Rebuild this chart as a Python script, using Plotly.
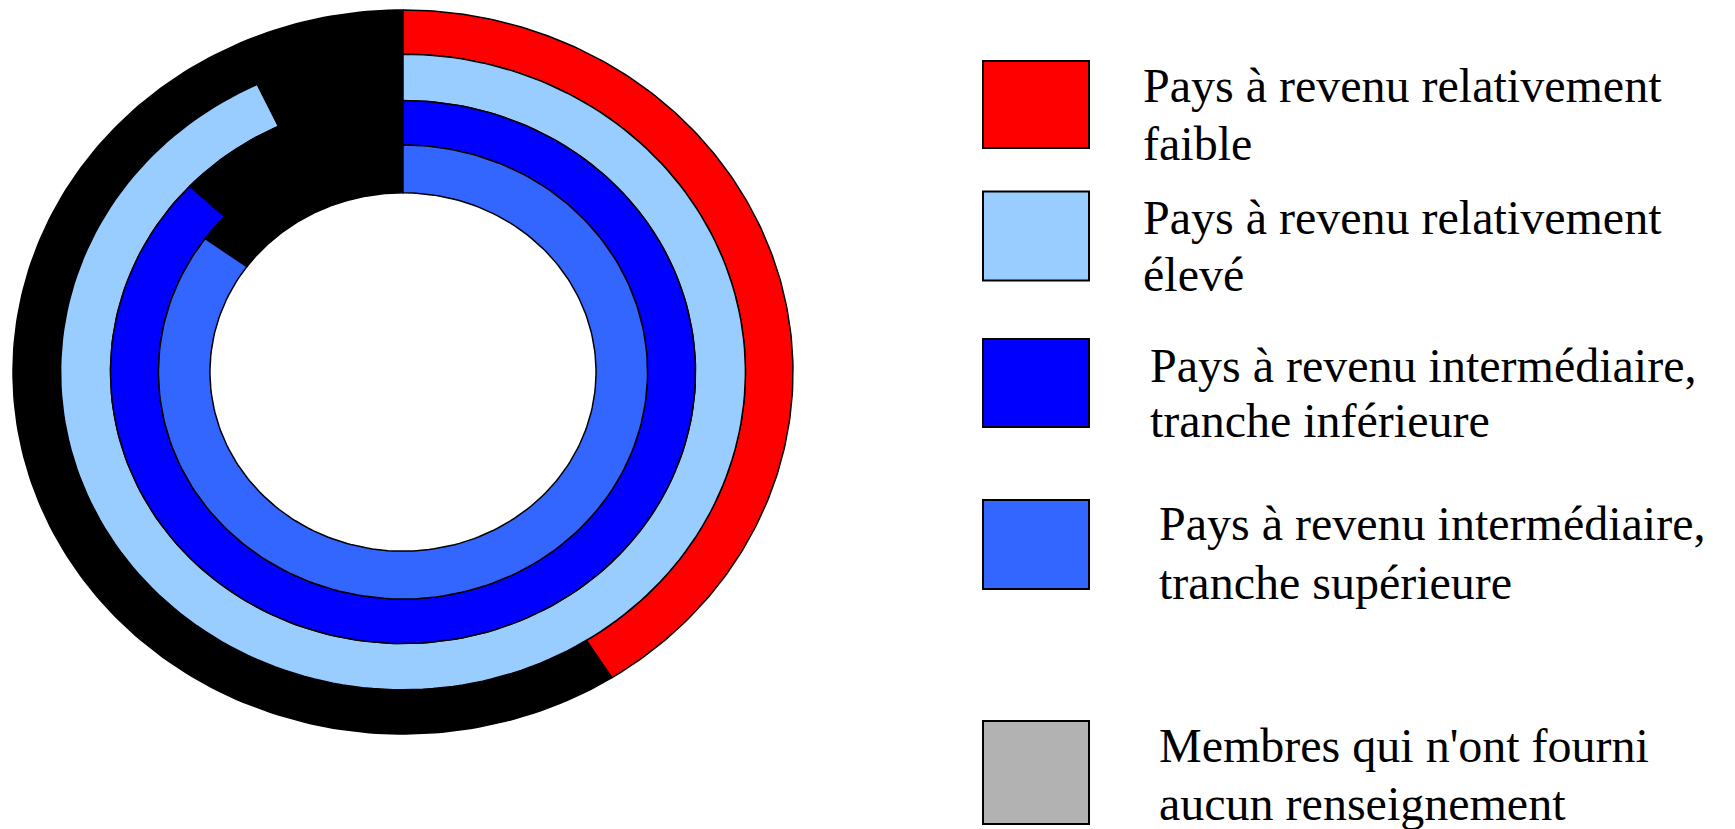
import numpy as np
import plotly.graph_objects as go

# ---- data ----
categories = [
    "Pays à revenu relativement faible",
    "Pays à revenu relativement élevé",
    "Pays à revenu intermédiaire, tranche inférieure",
    "Pays à revenu intermédiaire, tranche supérieure",
]
avec_renseignement = [41, 93, 87, 85]   # % of members with information (coloured part)
sans_renseignement = [59, 7, 13, 15]    # % of members without information (black part)
legend_labels = [
    ["Pays à revenu relativement", "faible"],
    ["Pays à revenu relativement", "élevé"],
    ["Pays à revenu intermédiaire,", "tranche inférieure"],
    ["Pays à revenu intermédiaire,", "tranche supérieure"],
    ["Membres qui n'ont fourni", "aucun renseignement"],
]

# ---- style / layout ----
W, H = 1735, 829
ring_colors = ["#FF0000", "#99CCFF", "#0000FF", "#3366FF"]
none_color = "#000000"
legend_none_color = "#B2B2B2"
cx, cy = 403, 372          # centre (px)
Rx, Ry = 390, 362          # outer radii (px), chart is slightly stretched horizontally
# ring boundaries, outer ring first (fraction of outer radius)
ring_outer = [1.0, 0.878, 0.75, 0.627]
ring_inner = [0.878, 0.75, 0.627, 0.495]


def sector(r0, r1, a0, a1, n=200):
    t = np.linspace(a0, a1, n)
    xo = cx + r1 * Rx * np.sin(t)
    yo = cy - r1 * Ry * np.cos(t)
    xi = cx + r0 * Rx * np.sin(t[::-1])
    yi = cy - r0 * Ry * np.cos(t[::-1])
    x = np.concatenate([xo, xi, xo[:1]])
    y = np.concatenate([yo, yi, yo[:1]])
    return x, y


fig = go.Figure()
for i, cat in enumerate(categories):
    total = avec_renseignement[i] + sans_renseignement[i]
    a_split = 2 * np.pi * avec_renseignement[i] / total
    # black (no information) part
    x, y = sector(ring_inner[i], ring_outer[i], a_split, 2 * np.pi)
    fig.add_trace(go.Scatter(x=x, y=y, mode="lines", fill="toself",
                             fillcolor=none_color, line=dict(color="#000000", width=1.5),
                             name="Membres qui n'ont fourni aucun renseignement",
                             hoverinfo="name", showlegend=False))
    # coloured part
    x, y = sector(ring_inner[i], ring_outer[i], 0, a_split)
    fig.add_trace(go.Scatter(x=x, y=y, mode="lines", fill="toself",
                             fillcolor=ring_colors[i], line=dict(color="#000000", width=1.5),
                             name=cat, hoverinfo="name", showlegend=False))

# ---- custom legend ----
box_x0, box_x1 = 983, 1089
box_y = [(61, 148), (191.5, 280.5), (339, 427), (500, 589), (721, 824)]
text_x = [1141, 1141, 1148, 1157, 1157]
baselines = [(101.7, 159.4), (233.3, 290.5), (381.7, 436.7), (540, 598.3), (761.7, 820)]
font_size = 48
box_colors = ring_colors + [legend_none_color]

for k in range(5):
    fig.add_shape(type="rect", xref="x", yref="y", x0=box_x0, x1=box_x1,
                  y0=box_y[k][0], y1=box_y[k][1],
                  fillcolor=box_colors[k], line=dict(color="#000000", width=2))
    for j, line in enumerate(legend_labels[k]):
        fig.add_annotation(x=text_x[k], y=baselines[k][j] - 0.3375 * font_size,
                           xref="x", yref="y", text=line, showarrow=False,
                           xanchor="left", yanchor="middle",
                           font=dict(family="Liberation Serif", size=font_size, color="#000000"))

fig.update_layout(
    width=W, height=H,
    margin=dict(l=0, r=0, t=0, b=0),
    paper_bgcolor="#FFFFFF", plot_bgcolor="#FFFFFF",
    xaxis=dict(range=[0, W], visible=False, fixedrange=True),
    yaxis=dict(range=[H, 0], visible=False, fixedrange=True),
    showlegend=False,
)

fig.write_html("out.html", config={"displayModeBar": False},
               post_script="document.body.style.margin='0';")
